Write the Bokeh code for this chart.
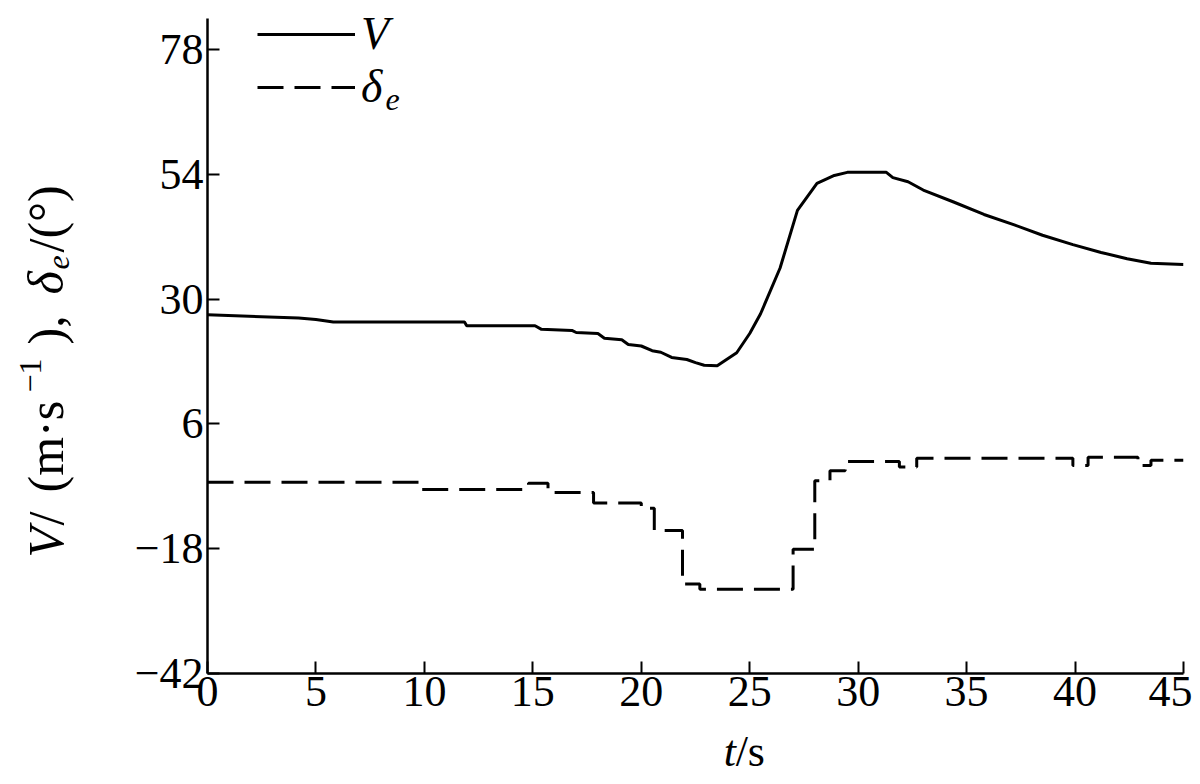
from math import pi
from bokeh.plotting import figure
from bokeh.layouts import row, column
from bokeh.models import Range1d, FixedTicker, Label, Legend, LegendItem
from bokeh.embed import file_html
from bokeh.resources import INLINE

# ---------------- data ----------------
t_V = [0, 4.2, 5.0, 5.8, 11.85, 11.95, 15.1, 15.4, 16.8, 17.0, 18.0, 18.3, 19.1, 19.4,
       20.0, 20.5, 20.9, 21.4, 22.1, 22.5, 22.9, 23.5, 24.4, 25.0, 25.5, 26.4, 27.2,
       28.1, 28.9, 29.5, 31.3, 31.6, 32.3, 33.0, 34.4, 35.8, 37.2, 38.5, 39.9, 41.2,
       42.4, 43.5, 45.0]
V = [27.0, 26.4, 26.1, 25.6, 25.6, 24.9, 24.9, 24.2, 24.0, 23.6, 23.4, 22.5, 22.2, 21.3,
     21.0, 20.1, 19.8, 18.8, 18.4, 17.8, 17.3, 17.2, 19.7, 23.4, 27.2, 36.0, 47.1,
     52.3, 53.8, 54.4, 54.4, 53.4, 52.6, 51.0, 48.7, 46.3, 44.3, 42.3, 40.5, 39.0,
     37.8, 36.9, 36.7]

t_delta = [0, 9.8, 14.8, 15.7, 17.8, 20.0, 20.6, 21.9, 22.7, 27.0, 28.0, 28.7, 29.4,
           31.9, 32.7, 39.9, 40.6, 42.9, 43.5, 45.0]
delta = [-5.2, -6.6, -5.4, -7.2, -9.2, -10.2, -14.5, -24.8, -25.8, -18.1, -4.9, -3.0, -1.2,
         -2.3, -0.6, -2.0, -0.4, -2.0, -1.0, -1.0]

x_ticks = [0, 5, 10, 15, 20, 25, 30, 35, 40, 45]
y_ticks = [-42, -18, 6, 30, 54, 78]
y_tick_labels = {-42: "\u221242", -18: "\u221218", 6: "6", 30: "30", 54: "54", 78: "78"}
legend_labels = ["V", "\u03b4"]

FONT = "Liberation Serif"
TOTAL_W, TOTAL_H = 1192, 776
LEFT_W = 122          # width of the strip holding the y-axis title
MAIN_H = 725          # height of the main figure (the x-axis title strip is below)
PX_PER_Y = 5.198      # frame pixels per y unit
Y_MIN, Y_MAX = -42, 84
TOP_PAD = 18          # pixels of frame above y = 84

# ---------------- main figure ----------------
p = figure(width=TOTAL_W - LEFT_W, height=MAIN_H,
           x_range=Range1d(0, 45),
           y_range=Range1d(Y_MIN, Y_MAX + TOP_PAD / PX_PER_Y),
           output_backend="svg", toolbar_location=None,
           min_border_left=85, min_border_right=9, min_border_top=0, min_border_bottom=52)
p.outline_line_color = None
p.grid.visible = False
p.background_fill_color = "white"
p.border_fill_color = "white"

for ax in (p.xaxis[0], p.yaxis[0]):
    ax.axis_line_color = "black"
    ax.axis_line_width = 2.5
    ax.major_tick_line_color = "black"
    ax.major_tick_line_width = 2
    ax.major_tick_in = 12
    ax.major_tick_out = 0
    ax.minor_tick_line_color = None
    ax.major_label_text_font = FONT
    ax.major_label_text_font_size = "44px"
    ax.major_label_text_color = "black"

p.xaxis[0].ticker = FixedTicker(ticks=x_ticks)
p.xaxis[0].major_label_standoff = 3
p.yaxis[0].ticker = FixedTicker(ticks=y_ticks)
p.yaxis[0].major_label_overrides = y_tick_labels
p.yaxis[0].major_label_standoff = 4
p.yaxis[0].bounds = (Y_MIN, Y_MAX)

rV = p.line(t_V, V, line_color="black", line_width=3)
rD = p.step(t_delta, delta, mode="after", line_color="black", line_width=3, line_dash="26 11")

legend = Legend(items=[LegendItem(label=legend_labels[0], renderers=[rV]),
                       LegendItem(label=legend_labels[1], renderers=[rD])],
                location=(50, 560), orientation="vertical",
                border_line_color=None, background_fill_alpha=0,
                padding=0, margin=0, spacing=0,
                glyph_width=98, glyph_height=50, label_height=50, label_standoff=6,
                label_text_font=FONT, label_text_font_style="italic",
                label_text_font_size="46px", label_text_color="black")
p.add_layout(legend)

FRAME_L, FRAME_R, FRAME_T = 207, 1183, 0


def lab_main(text, px, py, size, style="normal"):
    """Label inside the main frame, positioned in screenshot pixels."""
    x = (px - FRAME_L) / ((FRAME_R - FRAME_L) / 45)
    y = Y_MAX + TOP_PAD / PX_PER_Y - (py - FRAME_T) / PX_PER_Y
    p.add_layout(Label(x=x, y=y, text=text, text_font=FONT, text_font_size=f"{size}px",
                       text_font_style=style, text_align="left", text_baseline="middle",
                       text_color="black"))


lab_main("e", 385, 99, 32, "italic")   # subscript of the legend's delta


def strip(width, height, x0, y0):
    f = figure(width=width, height=height, x_range=Range1d(x0, x0 + width),
               y_range=Range1d(TOTAL_H - y0 - height, TOTAL_H - y0),
               output_backend="svg", toolbar_location=None,
               x_axis_location=None, y_axis_location=None,
               min_border_left=0, min_border_right=0, min_border_top=0, min_border_bottom=0)
    f.outline_line_color = None
    f.grid.visible = False
    f.background_fill_color = "white"
    f.border_fill_color = "white"
    return f


def lab(f, text, px, py, size, style="normal", angle=0.0):
    f.add_layout(Label(x=px, y=TOTAL_H - py, text=text, text_font=FONT,
                       text_font_size=f"{size}px", text_font_style=style, angle=angle,
                       text_align="left", text_baseline="middle", text_color="black"))


# y-axis title strip: V/ (m·s^-1), δe/(°)
yfig = strip(LEFT_W, TOTAL_H, 0, 0)
A = pi / 2
lab(yfig, "V", 45, 557, 50, "italic", A)
lab(yfig, "/", 45, 525, 50, "normal", A)
lab(yfig, "(m\u00b7s", 45, 492, 50, "normal", A)
lab(yfig, "\u22121", 30, 392, 32, "normal", A)
lab(yfig, "),", 45, 344, 50, "normal", A)
lab(yfig, "\u03b4", 45, 294, 50, "italic", A)
lab(yfig, "e", 58, 269, 32, "italic", A)
lab(yfig, "/(\u00b0)", 45, 252, 50, "normal", A)

# x-axis title strip: t/s
xfig = strip(TOTAL_W - LEFT_W, TOTAL_H - MAIN_H, LEFT_W, MAIN_H)
lab(xfig, "t", 688, 751, 44, "italic")
lab(xfig, "/s", 701, 751, 44)

layout = row(yfig, column(p, xfig, spacing=0), spacing=0)

open("out.html", "w").write(file_html(layout, INLINE))
